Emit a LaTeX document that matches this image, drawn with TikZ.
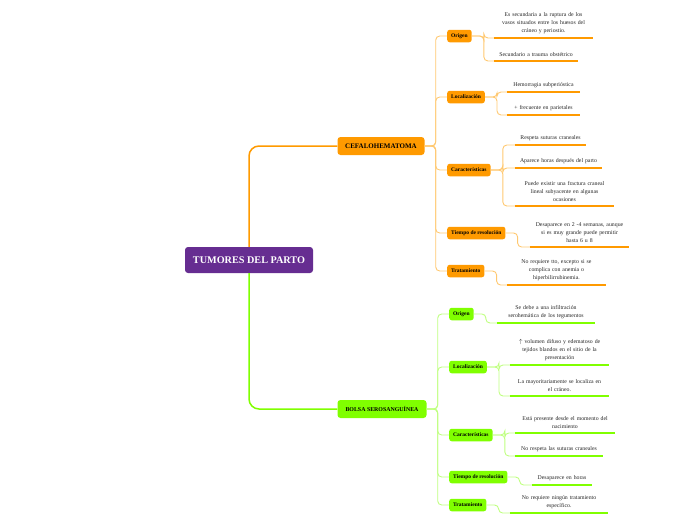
\documentclass[tikz,border=0pt]{standalone}
\usepackage{fontspec}
\setmainfont{Liberation Serif}
\usetikzlibrary{calc}
\usetikzlibrary{positioning}

\definecolor{rootpurple}{HTML}{662D91}
\definecolor{orangebox}{HTML}{FF9A00}
\definecolor{orangeline}{HTML}{FFC870}
\definecolor{greenbox}{HTML}{80FF00}
\definecolor{greenline}{HTML}{BFFF80}
\definecolor{leaftext}{HTML}{262626}

\begin{document}
\begin{tikzpicture}[x=1pt,y=-1pt,
    every node/.style = {align=center},
    rootbox/.style = {fill=rootpurple, text=white, rounded corners=3pt, minimum width=128pt, minimum height=26pt, font=\fontsize{10.2}{11}\selectfont\bfseries},
    mainbox/.style = {fill=#1, rounded corners=3pt, minimum height=18pt, font=\fontsize{6.2}{7}\selectfont\bfseries},
    subbox/.style = {fill=#1, rounded corners=2.5pt, minimum height=12.5pt, inner xsep=4pt, anchor=west, font=\fontsize{5.5}{6.5}\selectfont\bfseries},
    leaf/.style = {text width=#1, inner xsep=0pt, inner ysep=4pt, anchor=south, text=leaftext, font=\fontsize{5.8}{8}\selectfont},
    trunk/.style = {draw=#1, line width=0.9pt, rounded corners=4pt},
    stem/.style = {draw=#1, line width=1.5pt, rounded corners=10pt},
    uline/.style = {draw=#1, line width=2.8pt}]

\useasboundingbox (0,0) rectangle (696,520);

\node[rootbox] (root) at (249,260) {TUMORES DEL PARTO};
\node[mainbox=orangebox, minimum width=87pt, font=\fontsize{7}{8}\selectfont\bfseries] (cef) at (381,146) {CEFALOHEMATOMA};
\node[mainbox=greenbox, minimum width=89pt, font=\fontsize{5.9}{7}\selectfont\bfseries] (bol) at (382,409) {BOLSA SEROSANGUÍNEA};

\node[subbox=orangebox] (corig) at (447,36) {Origen};
\node[subbox=orangebox] (cloc) at (447,97) {Localización};
\node[subbox=orangebox] (ccar) at (447,170) {Características};
\node[subbox=orangebox] (ctie) at (447,233) {Tiempo de resolución};
\node[subbox=orangebox] (ctra) at (447,271) {Tratamiento};

\node[subbox=greenbox] (gorig) at (449,314) {Origen};
\node[subbox=greenbox] (gloc) at (449,367) {Localización};
\node[subbox=greenbox] (gcar) at (449,435) {Características};
\node[subbox=greenbox] (gtie) at (449,477) {Tiempo de resolución};
\node[subbox=greenbox] (gtra) at (449,505) {Tratamiento};

\node[leaf=99pt] (o1) at (543.5,38) {Es secundaria a la ruptura de los\\vasos situados entre los huesos del\\cráneo y periostio.};
\node[leaf=84pt] (o2) at (536,61) {Secundario a trauma obstétrico};
\node[leaf=73pt] (l1) at (543.5,92) {Hemorragia subperióstica};
\node[leaf=73pt] (l2) at (543.5,115) {+ frecuente en parietales};
\node[leaf=71pt] (c1) at (550.5,145) {Respeta suturas craneales};
\node[leaf=87pt] (c2) at (558.5,168) {Aparece horas después del parto};
\node[leaf=99pt] (c3) at (564.5,206) {Puede existir una fractura craneal\\lineal subyacente en algunas\\ocasiones};
\node[leaf=99pt] (t1) at (579.5,247) {Desaparece en 2 -4 semanas, aunque\\si es muy grande puede permitir\\hasta 6 u 8};
\node[leaf=99pt] (r1) at (556.5,285) {No requiere tto, excepto si se\\complica con anemia o\\hiperbilirrubinemia.};

\node[leaf=98pt] (go1) at (546,323) {Se debe a una infiltración\\serohemática de los tegumentos};
\node[leaf=99pt] (gl1) at (559.5,365) {$\uparrow$ volumen difuso y edematoso de\\tejidos blandos en el sitio de la\\presentación};
\node[leaf=99pt] (gl2) at (559.5,396) {La mayoritariamente se localiza en\\el cráneo.};
\node[leaf=100pt] (gc1) at (565,433) {Está presente desde el momento del\\nacimiento};
\node[leaf=88pt] (gc2) at (559,456) {No respeta las suturas craneales};
\node[leaf=60pt] (gt1) at (562,485) {Desaparece en horas};
\node[leaf=98pt] (gr1) at (559,513) {No requiere ningún tratamiento\\específico.};

\draw[stem=orangebox] (root.north) |- (cef.west);
\draw[stem=greenbox] (root.south) |- (bol.west);

\foreach \c in {corig,cloc,ccar,ctie,ctra}
    \draw[trunk=orangeline] (cef.east) -- ++(11,0) |- (\c.west);
\foreach \c in {gorig,gloc,gcar,gtie,gtra}
    \draw[trunk=greenline] (bol.east) -- ++(11,0) |- (\c.west);

\foreach \p/\c in {corig/o1,corig/o2,cloc/l1,cloc/l2,ccar/c1,ccar/c2,ccar/c3,ctie/t1,ctra/r1}
    \draw[trunk=orangeline] (\p.east) -- ++(12,0) |- (\c.south west);
\foreach \p/\c in {gorig/go1,gloc/gl1,gloc/gl2,gcar/gc1,gcar/gc2,gtie/gt1,gtra/gr1}
    \draw[trunk=greenline] (\p.east) -- ++(12,0) |- (\c.south west);

\foreach \n in {o1,o2,l1,l2,c1,c2,c3,t1,r1}
    \draw[uline=orangebox] (\n.south west) -- (\n.south east);
\foreach \n in {go1,gl1,gl2,gc1,gc2,gt1,gr1}
    \draw[uline=greenbox] (\n.south west) -- (\n.south east);
\end{tikzpicture}
\end{document}
